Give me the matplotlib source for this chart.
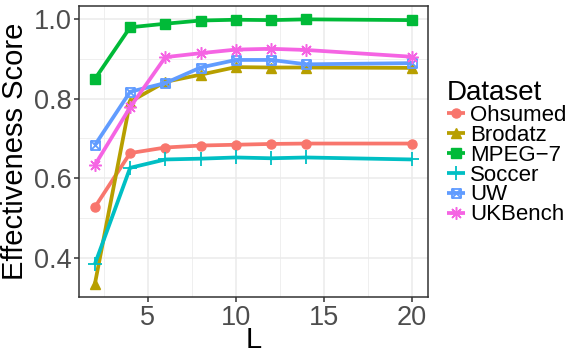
import matplotlib
matplotlib.use("Agg")
import matplotlib.pyplot as plt
from matplotlib.path import Path
from matplotlib.ticker import MultipleLocator
import numpy as np

plt.rcParams['font.family'] = ['Liberation Sans', 'DejaVu Sans']

L = [2, 4, 6, 8, 10, 12, 14, 20]
datasets = ["Ohsumed", "Brodatz", "MPEG\u22127", "Soccer", "UW", "UKBench"]
ohsumed = [0.527, 0.663, 0.677, 0.682, 0.684, 0.686, 0.687, 0.687]
brodatz = [0.334, 0.792, 0.842, 0.860, 0.879, 0.878, 0.878, 0.877]
mpeg7 = [0.849, 0.979, 0.988, 0.996, 0.998, 0.997, 0.999, 0.997]
soccer = [0.384, 0.626, 0.647, 0.649, 0.652, 0.650, 0.652, 0.647]
uw = [0.683, 0.817, 0.839, 0.878, 0.897, 0.897, 0.886, 0.889]
ukbench = [0.633, 0.778, 0.904, 0.914, 0.923, 0.925, 0.922, 0.905]
series = [ohsumed, brodatz, mpeg7, soccer, uw, ukbench]

colors = ["#F8766D", "#B79F00", "#00BA38", "#00BFC4", "#619CFF", "#F564E3"]

sqx = Path([(-1, -1), (1, -1), (1, 1), (-1, 1), (-1, -1), (1, 1), (-1, 1), (1, -1)],
           [Path.MOVETO, Path.LINETO, Path.LINETO, Path.LINETO, Path.LINETO,
            Path.LINETO, Path.MOVETO, Path.LINETO])
markers = ["o", "^", "s", "+", sqx, (8, 2, 0)]
msizes = [6.5, 7.5, 6.5, 10, 6.5, 9]
mfc = [None, None, None, None, "none", None]
mew = [1, 1, 1, 1.3, 1.3, 1.1]

fig = plt.figure(figsize=(5.81, 3.57), dpi=100)
ax = fig.add_axes([79/581, 1-297/357, (428-79)/581, (297-6)/357])

handles = []
for name, vals, c, m, ms, fc, ew in zip(datasets, series, colors, markers, msizes, mfc, mew):
    kw = dict(color=c, lw=2.7, marker=m, markersize=ms, markeredgewidth=ew, label=name,
              solid_capstyle="butt", solid_joinstyle="round")
    if fc is not None:
        kw["markerfacecolor"] = fc
    h, = ax.plot(L, vals, **kw)
    handles.append(h)

ax.set_xlim(1.1, 20.9)
ax.set_ylim(0.3015, 1.0325)
ax.xaxis.set_minor_locator(MultipleLocator(2.5))
ax.yaxis.set_minor_locator(MultipleLocator(0.1))
ax.set_xticks([5, 10, 15, 20])
ax.set_xticklabels(["5", "10", "15", "20"])
ax.set_yticks([0.4, 0.6, 0.8, 1.0])
ax.set_yticklabels(["0.4", "0.6", "0.8", "1.0"])
ax.grid(True, which="major", color="#EBEBEB", lw=1.1)
ax.grid(True, which="minor", color="#EBEBEB", lw=0.55)
ax.set_axisbelow(True)
for s in ax.spines.values():
    s.set_color("#333333")
    s.set_linewidth(1.1)
ax.tick_params(which="major", length=3.5, width=1.1, color="#333333", labelsize=19.5,
               labelcolor="#4D4D4D", pad=2)
ax.tick_params(which="minor", length=0)
ax.set_xlabel("L", fontsize=21, labelpad=-3)
ax.set_ylabel("Effectiveness Score", fontsize=21, labelpad=3)

leg = fig.legend(handles=handles, labels=datasets, loc="upper left",
                 bbox_to_anchor=(447/581, 1-80/357), frameon=False,
                 title="Dataset", title_fontsize=20, fontsize=16,
                 handlelength=0.8, handletextpad=0.25, labelspacing=-0.05,
                 borderaxespad=0, borderpad=0, alignment="left")

fig.savefig("out.png", dpi=100)
